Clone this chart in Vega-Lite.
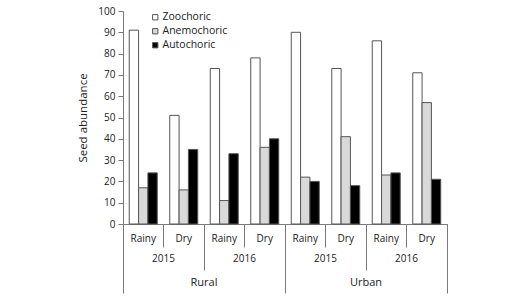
{
  "$schema": "https://vega.github.io/schema/vega-lite/v6.json",
  "width": 324,
  "height": 213,
  "autosize": {"type": "none"},
  "padding": {"left": 123, "top": 11, "right": 81, "bottom": 75},
  "config": {
    "font": "Open Sans",
    "view": {"stroke": null},
    "axis": {"labelColor": "#222", "titleColor": "#222", "domainColor": "#7a7a7a", "tickColor": "#7a7a7a", "grid": false, "labelFontWeight": "normal", "titleFontWeight": "normal"}
  },
  "data": {
    "values": [
      {"loc": "Rural", "yg": "Rural 2015", "g": "Rural 2015 Rainy", "type": "Zoochoric", "value": 91},
      {"loc": "Rural", "yg": "Rural 2015", "g": "Rural 2015 Rainy", "type": "Anemochoric", "value": 17},
      {"loc": "Rural", "yg": "Rural 2015", "g": "Rural 2015 Rainy", "type": "Autochoric", "value": 24},
      {"loc": "Rural", "yg": "Rural 2015", "g": "Rural 2015 Dry", "type": "Zoochoric", "value": 51},
      {"loc": "Rural", "yg": "Rural 2015", "g": "Rural 2015 Dry", "type": "Anemochoric", "value": 16},
      {"loc": "Rural", "yg": "Rural 2015", "g": "Rural 2015 Dry", "type": "Autochoric", "value": 35},
      {"loc": "Rural", "yg": "Rural 2016", "g": "Rural 2016 Rainy", "type": "Zoochoric", "value": 73},
      {"loc": "Rural", "yg": "Rural 2016", "g": "Rural 2016 Rainy", "type": "Anemochoric", "value": 11},
      {"loc": "Rural", "yg": "Rural 2016", "g": "Rural 2016 Rainy", "type": "Autochoric", "value": 33},
      {"loc": "Rural", "yg": "Rural 2016", "g": "Rural 2016 Dry", "type": "Zoochoric", "value": 78},
      {"loc": "Rural", "yg": "Rural 2016", "g": "Rural 2016 Dry", "type": "Anemochoric", "value": 36},
      {"loc": "Rural", "yg": "Rural 2016", "g": "Rural 2016 Dry", "type": "Autochoric", "value": 40},
      {"loc": "Urban", "yg": "Urban 2015", "g": "Urban 2015 Rainy", "type": "Zoochoric", "value": 90},
      {"loc": "Urban", "yg": "Urban 2015", "g": "Urban 2015 Rainy", "type": "Anemochoric", "value": 22},
      {"loc": "Urban", "yg": "Urban 2015", "g": "Urban 2015 Rainy", "type": "Autochoric", "value": 20},
      {"loc": "Urban", "yg": "Urban 2015", "g": "Urban 2015 Dry", "type": "Zoochoric", "value": 73},
      {"loc": "Urban", "yg": "Urban 2015", "g": "Urban 2015 Dry", "type": "Anemochoric", "value": 41},
      {"loc": "Urban", "yg": "Urban 2015", "g": "Urban 2015 Dry", "type": "Autochoric", "value": 18},
      {"loc": "Urban", "yg": "Urban 2016", "g": "Urban 2016 Rainy", "type": "Zoochoric", "value": 86},
      {"loc": "Urban", "yg": "Urban 2016", "g": "Urban 2016 Rainy", "type": "Anemochoric", "value": 23},
      {"loc": "Urban", "yg": "Urban 2016", "g": "Urban 2016 Rainy", "type": "Autochoric", "value": 24},
      {"loc": "Urban", "yg": "Urban 2016", "g": "Urban 2016 Dry", "type": "Zoochoric", "value": 71},
      {"loc": "Urban", "yg": "Urban 2016", "g": "Urban 2016 Dry", "type": "Anemochoric", "value": 57},
      {"loc": "Urban", "yg": "Urban 2016", "g": "Urban 2016 Dry", "type": "Autochoric", "value": 21}
    ]
  },
  "layer": [
    {
      "mark": {"type": "bar", "stroke": "#555", "strokeWidth": 1},
      "encoding": {
        "x": {
          "field": "g", "type": "nominal", "sort": null,
          "scale": {"paddingInner": 0, "paddingOuter": 0},
          "axis": {"orient": "bottom", "title": null, "bandPosition": 1, "tickExtra": true, "tickSize": 23, "labelPadding": -13.5, "labelAngle": 0, "labelFontSize": 10, "labelExpr": "split(datum.label, ' ')[2]", "domain": true}
        },
        "xOffset": {
          "field": "type", "type": "nominal", "sort": ["Zoochoric", "Anemochoric", "Autochoric"],
          "scale": {"paddingInner": 0, "paddingOuter": 0.67}
        },
        "y": {
          "field": "value", "type": "quantitative",
          "scale": {"domain": [0, 100]},
          "axis": {"title": "Seed abundance", "values": [0, 10, 20, 30, 40, 50, 60, 70, 80, 90, 100], "tickSize": 5, "labelPadding": 3, "labelFontSize": 10, "titleFontSize": 11.5, "titlePadding": 9}
        },
        "fill": {
          "field": "type", "type": "nominal",
          "scale": {"domain": ["Zoochoric", "Anemochoric", "Autochoric"], "range": ["#ffffff", "#d9d9d9", "#000000"]},
          "legend": {"orient": "none", "legendX": 27, "legendY": 1, "title": null, "padding": 0, "symbolType": "square", "symbolSize": 28, "symbolStrokeColor": "#555", "symbolStrokeWidth": 1, "labelFontSize": 10.5, "labelColor": "#222", "rowPadding": 3, "labelOffset": 2}
        }
      }
    },
    {
      "mark": {"type": "bar", "opacity": 0},
      "encoding": {
        "x": {
          "field": "yg", "type": "nominal", "sort": null,
          "scale": {"paddingInner": 0, "paddingOuter": 0},
          "axis": {"orient": "bottom", "title": null, "bandPosition": 1, "tickExtra": true, "tickSize": 46, "labelPadding": -17, "labelAngle": 0, "labelFontSize": 10, "labelExpr": "split(datum.label, ' ')[1]", "domain": false}
        }
      }
    },
    {
      "mark": {"type": "bar", "opacity": 0},
      "encoding": {
        "x": {
          "field": "loc", "type": "nominal", "sort": null,
          "scale": {"paddingInner": 0, "paddingOuter": 0},
          "axis": {"orient": "bottom", "title": null, "bandPosition": 1, "tickExtra": true, "tickSize": 69, "labelPadding": -17, "labelAngle": 0, "labelFontSize": 11, "domain": false}
        }
      }
    }
  ],
  "resolve": {"scale": {"x": "independent"}, "axis": {"x": "independent"}}
}
